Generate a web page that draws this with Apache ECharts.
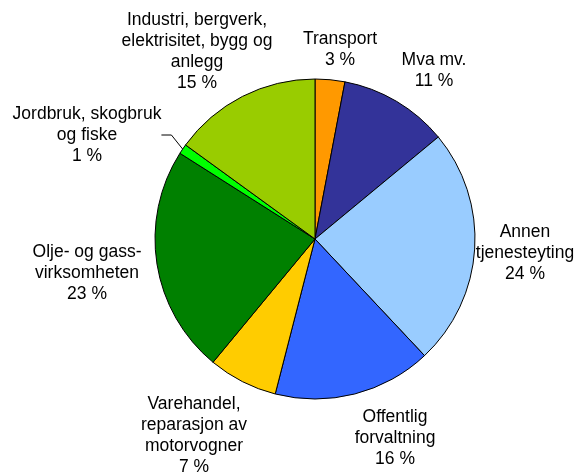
<!DOCTYPE html>
<html>
<head>
<meta charset="utf-8">
<script src="https://cdn.jsdelivr.net/npm/echarts@6/dist/echarts.min.js"></script>
<style>html,body{margin:0;padding:0;background:#fff;}#c{width:583px;height:475px;}</style>
</head>
<body>
<div id="c"></div>
<script>
const categories = [
  "Transport",
  "Mva mv.",
  "Annen\ntjenesteyting",
  "Offentlig\nforvaltning",
  "Varehandel,\nreparasjon av\nmotorvogner",
  "Olje- og gass-\nvirksomheten",
  "Jordbruk, skogbruk\nog fiske",
  "Industri, bergverk,\nelektrisitet, bygg og\nanlegg"
];
const values = [3, 11, 24, 16, 7, 23, 1, 15];

const colors = ["#FF9900", "#333399", "#99CCFF", "#3366FF", "#FFCC00", "#008000", "#00FF00", "#99CC00"];
const labelPos = [[340, 50], [434, 71], [525, 253], [395, 438], [194, 436], [87, 273], [87, 135], [197, 52]];

const chart = echarts.init(document.getElementById('c'));
chart.setOption({
  animation: false,
  backgroundColor: '#fff',
  series: [{
    type: 'pie',
    center: [315, 239],
    radius: 160,
    startAngle: 90,
    clockwise: true,
    silent: true,
    itemStyle: { borderColor: '#000', borderWidth: 1 },
    label: {
      show: true,
      position: 'outside',
      overflow: 'none',
      fontFamily: 'Liberation Sans, Arial, sans-serif',
      fontSize: 17.5,
      lineHeight: 21,
      color: '#000',
      align: 'center',
      formatter: p => p.name + '\n' + p.value + ' %'
    },
    labelLine: { show: false },
    labelLayout: function (p) {
      const pos = labelPos[p.dataIndex];
      return { x: pos[0], y: pos[1], align: 'center', verticalAlign: 'middle' };
    },
    data: categories.map((c, i) => ({
      name: c,
      value: values[i],
      itemStyle: { color: colors[i] },
      labelLine: i === 6 ? { show: true, length: 8, length2: 10, lineStyle: { color: '#000', width: 1 } } : { show: false }
    }))
  }]
});
</script>
</body>
</html>
